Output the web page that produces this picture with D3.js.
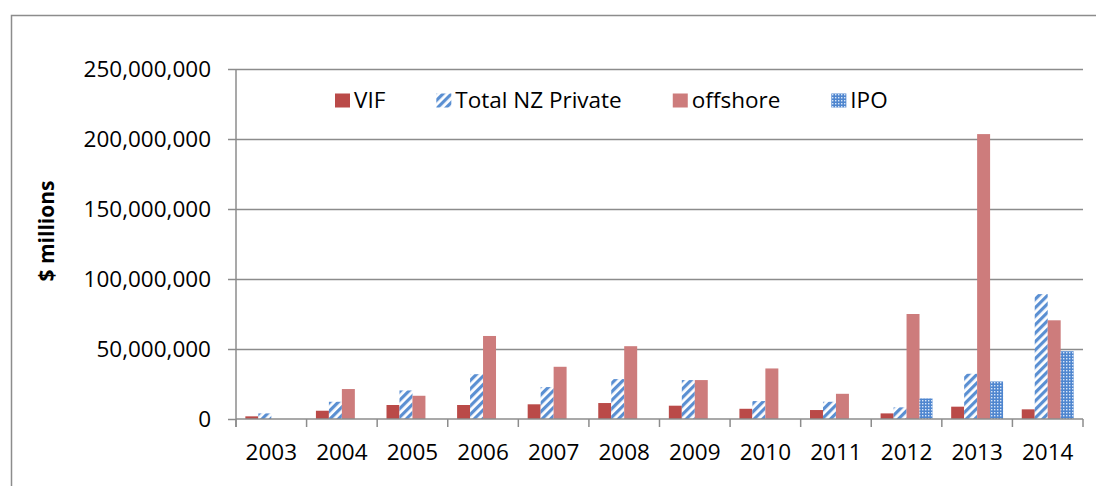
<!DOCTYPE html>
<html>
<head>
    <title>VIF vs private investment</title>
    <script src="https://d3js.org/d3.v7.min.js"></script>
    <style>
        body {
            margin: 0;
            background-color: white;
            font-family: "Open Sans", Arial, sans-serif;
        }
        svg text {
            fill: #000;
        }
    </style>
</head>
<body>
    <div id="chart"></div>
    <script>
        // Chart data
        const years = ['2003', '2004', '2005', '2006', '2007', '2008', '2009', '2010', '2011', '2012', '2013', '2014'];
        const seriesNames = ['VIF', 'Total NZ Private', 'offshore', 'IPO'];
        const vif = [1900000, 5900000, 10000000, 10000000, 10500000, 11400000, 9500000, 7300000, 6400000, 4000000, 8800000, 6900000];
        const totalNZPrivate = [4000000, 12300000, 20400000, 32000000, 22800000, 28500000, 27800000, 12800000, 12300000, 8300000, 32300000, 89200000];
        const offshore = [0, 21400000, 16600000, 59300000, 37300000, 52000000, 27800000, 36100000, 18000000, 75000000, 203500000, 70500000];
        const ipo = [0, 0, 0, 0, 0, 0, 0, 0, 0, 14700000, 26800000, 48400000];
        const yTicks = [0, 50000000, 100000000, 150000000, 200000000, 250000000];

        const seriesValues = [vif, totalNZPrivate, offshore, ipo];
        const fills = ['#BA4A48', 'url(#stripes)', '#CD7C7C', 'url(#dots)'];

        const width = 1096;
        const height = 486;
        const margin = { left: 236, right: 13, top: 69, bottom: 67 };

        const svg = d3.select('#chart')
            .append('svg')
            .attr('width', width)
            .attr('height', height);

        // Patterns for the hatched series
        const defs = svg.append('defs');
        const stripes = defs.append('pattern')
            .attr('id', 'stripes')
            .attr('patternUnits', 'userSpaceOnUse')
            .attr('width', 6)
            .attr('height', 6)
            .attr('patternTransform', 'rotate(45)');
        stripes.append('rect').attr('width', 6).attr('height', 6).attr('fill', '#FFFFFF');
        stripes.append('rect').attr('width', 3.2).attr('height', 6).attr('fill', '#5A8FD2');

        const dots = defs.append('pattern')
            .attr('id', 'dots')
            .attr('patternUnits', 'userSpaceOnUse')
            .attr('width', 3)
            .attr('height', 3);
        dots.append('rect').attr('width', 3).attr('height', 3).attr('fill', '#4F86CF');
        dots.append('rect').attr('x', 1).attr('y', 1).attr('width', 1.4).attr('height', 1.4).attr('fill', '#D8E6F7');

        // Outer chart frame (runs off the right and bottom of the picture)
        svg.append('rect')
            .attr('x', 11.5)
            .attr('y', 15.5)
            .attr('width', 1200)
            .attr('height', 600)
            .attr('fill', 'none')
            .attr('stroke', '#8C8C8C')
            .attr('stroke-width', 1.5);

        const x = d3.scaleBand()
            .domain(years)
            .range([margin.left, width - margin.right]);

        const xInner = d3.scaleBand()
            .domain(seriesNames)
            .range([0, x.bandwidth()])
            .paddingOuter(0.72);

        const y = d3.scaleLinear()
            .domain([0, 250000000])
            .range([height - margin.bottom, margin.top]);

        // Gridlines
        svg.append('g')
            .selectAll('line')
            .data(yTicks.slice(1))
            .enter()
            .append('line')
            .attr('x1', margin.left)
            .attr('x2', width - margin.right)
            .attr('y1', d => Math.round(y(d)) + 0.5)
            .attr('y2', d => Math.round(y(d)) + 0.5)
            .attr('stroke', '#8C8C8C')
            .attr('stroke-width', 1.5);

        // Bars
        const groups = svg.append('g')
            .selectAll('g')
            .data(seriesNames)
            .enter()
            .append('g')
            .attr('fill', (d, i) => fills[i]);

        groups.selectAll('rect')
            .data((name, i) => seriesValues[i].map((v, j) => ({ year: years[j], value: v, name: name })))
            .enter()
            .filter(d => d.value > 0)
            .append('rect')
            .attr('x', d => x(d.year) + xInner(d.name))
            .attr('width', xInner.bandwidth())
            .attr('y', d => y(d.value))
            .attr('height', d => y(0) - y(d.value));

        // Y axis
        const yAxis = svg.append('g')
            .attr('transform', `translate(${margin.left},0)`)
            .call(d3.axisLeft(y)
                .tickValues(yTicks)
                .tickFormat(d3.format(','))
                .tickSize(8)
                .tickSizeOuter(0)
                .tickPadding(17));
        yAxis.select('.domain').remove();
        yAxis.selectAll('line').attr('stroke', '#8C8C8C').attr('stroke-width', 1.5);
        yAxis.selectAll('text')
            .style('font-family', '"Open Sans", Arial, sans-serif')
            .style('font-size', '22.5px')
            .attr('fill', '#000');

        svg.append('line')
            .attr('x1', margin.left)
            .attr('x2', margin.left)
            .attr('y1', y(250000000))
            .attr('y2', y(0) + 8)
            .attr('stroke', '#8C8C8C')
            .attr('stroke-width', 1.5);

        // X axis
        svg.append('line')
            .attr('x1', margin.left)
            .attr('x2', width - margin.right)
            .attr('y1', y(0))
            .attr('y2', y(0))
            .attr('stroke', '#8C8C8C')
            .attr('stroke-width', 1.5);

        svg.append('g')
            .selectAll('line')
            .data(years.concat(['end']))
            .enter()
            .append('line')
            .attr('x1', d => d === 'end' ? width - margin.right : x(d))
            .attr('x2', d => d === 'end' ? width - margin.right : x(d))
            .attr('y1', y(0))
            .attr('y2', y(0) + 8)
            .attr('stroke', '#8C8C8C')
            .attr('stroke-width', 1.5);

        const xAxis = svg.append('g')
            .attr('transform', `translate(0,${y(0)})`)
            .call(d3.axisBottom(x).tickSize(0).tickPadding(25));
        xAxis.select('.domain').remove();
        xAxis.selectAll('text')
            .style('font-family', '"Open Sans", Arial, sans-serif')
            .style('font-size', '22.5px')
            .attr('fill', '#000');

        // Y axis title
        svg.append('text')
            .attr('transform', `translate(54,231) rotate(-90)`)
            .attr('text-anchor', 'middle')
            .style('font-size', '21px')
            .style('font-weight', 'bold')
            .text('$ millions');

        // Legend
        const legend = svg.append('g');
        let lx = 335;
        seriesNames.forEach((name, i) => {
            legend.append('rect')
                .attr('x', lx)
                .attr('y', 93.5)
                .attr('width', 15)
                .attr('height', 14)
                .attr('fill', fills[i]);
            const t = legend.append('text')
                .attr('x', lx + 19)
                .attr('y', 108)
                .style('font-size', '22.5px')
                .text(name);
            lx += 19 + t.node().getComputedTextLength() + 51;
        });
    </script>
</body>
</html>
